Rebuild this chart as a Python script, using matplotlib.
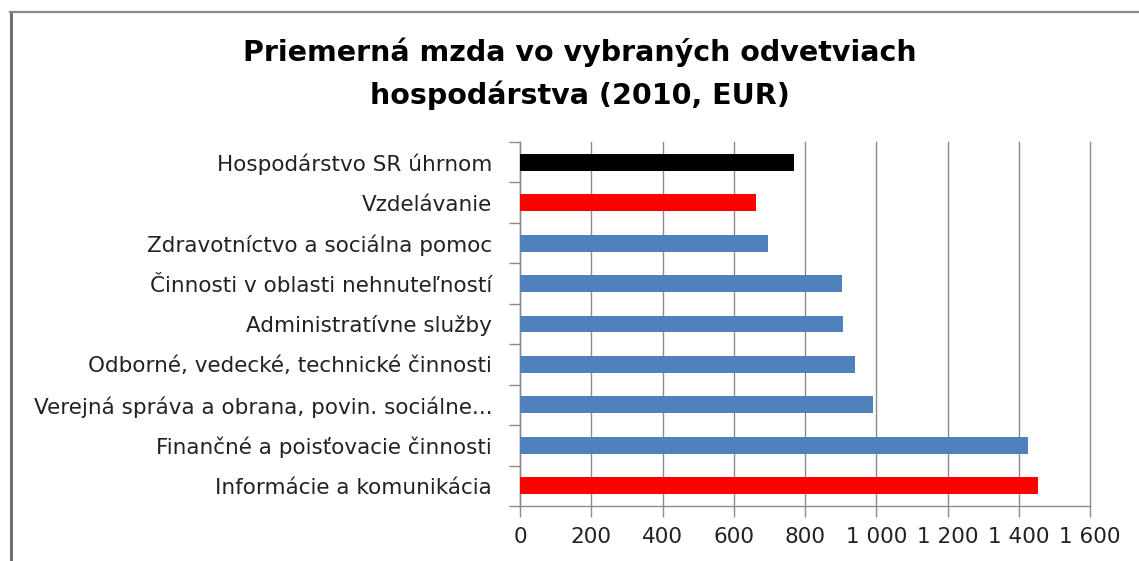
import matplotlib
matplotlib.use("Agg")
import matplotlib.pyplot as plt
from matplotlib.lines import Line2D

categories = [
    "Informácie a komunikácia",
    "Finančné a poisťovacie činnosti",
    "Verejná správa a obrana, povin. sociálne...",
    "Odborné, vedecké, technické činnosti",
    "Administratívne služby",
    "Činnosti v oblasti nehnuteľností",
    "Zdravotníctvo a sociálna pomoc",
    "Vzdelávanie",
    "Hospodárstvo SR úhrnom",
]
values = [1454, 1426, 990, 941, 908, 904, 697, 663, 769]
colors = ["#FF0000", "#4F81BD", "#4F81BD", "#4F81BD", "#4F81BD",
          "#4F81BD", "#4F81BD", "#FF0000", "#000000"]
xticks = [0, 200, 400, 600, 800, 1000, 1200, 1400, 1600]
xticklabels = ["0", "200", "400", "600", "800", "1 000", "1 200", "1 400", "1 600"]
title_lines = ["Priemerná mzda vo vybraných odvetviach", "hospodárstva (2010, EUR)"]

plt.rcParams['font.family'] = ['DejaVu Sans']

W, H = 1139, 561
fig = plt.figure(figsize=(W / 100, H / 100), dpi=100)
fig.patch.set_facecolor("white")

fig.add_artist(Line2D([10.5 / W, 10.5 / W], [0, 1 - 12 / H], transform=fig.transFigure,
                      color="#6e6e6e", lw=2.2))
fig.add_artist(Line2D([10 / W, 1], [1 - 12 / H, 1 - 12 / H], transform=fig.transFigure,
                      color="#8a8a8a", lw=1.6))

left, right, top, bottom = 520, 1090, 142, 506
ax = fig.add_axes([left / W, (H - bottom) / H, (right - left) / W, (bottom - top) / H])

ypos = list(range(len(categories)))
ax.barh(ypos, values, height=0.42, color=colors, zorder=3)

ax.set_xlim(0, 1600)
ax.set_ylim(-0.5, len(categories) - 0.5)
ax.set_xticks(xticks)
ax.set_xticklabels(xticklabels)
ax.set_yticks(ypos)
ax.set_yticklabels(categories)
ax.set_yticks([i - 0.5 for i in range(len(categories) + 1)], minor=True)

ax.grid(axis="x", color="#8c8c8c", lw=1.0, zorder=0)
for gl in ax.get_xgridlines():
    gl.set_clip_on(False)
for s in ["top", "right"]:
    ax.spines[s].set_visible(False)
for s in ["left", "bottom"]:
    ax.spines[s].set_color("#8c8c8c")
    ax.spines[s].set_linewidth(1.0)

ax.tick_params(axis="y", which="major", length=0, pad=20, labelsize=15.5, labelcolor="#222222")
ax.tick_params(axis="y", which="minor", length=8, color="#8c8c8c", width=1.0, direction="out")
ax.tick_params(axis="x", which="major", length=8, color="#8c8c8c", width=1.0, direction="out",
               pad=7, labelsize=15.5, labelcolor="#222222")

fig.text(580 / W, 1 - 52 / H, title_lines[0], ha="center", va="center",
         fontsize=20.5, fontweight="bold", color="#000000")
fig.text(580 / W, 1 - 95 / H, title_lines[1], ha="center", va="center",
         fontsize=20.5, fontweight="bold", color="#000000")

fig.savefig("out.png", dpi=100, facecolor="white")
